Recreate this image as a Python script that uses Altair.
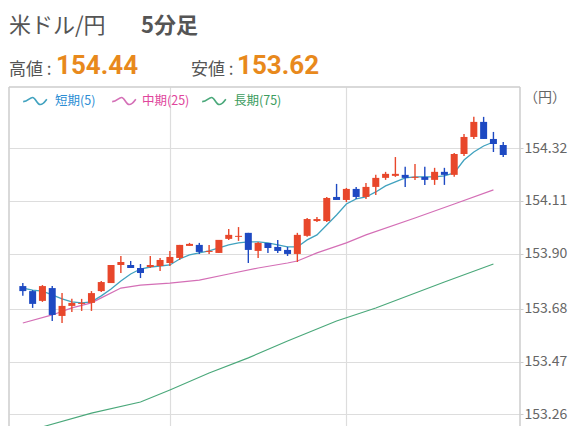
import altair as alt
import pandas as pd

# ---- candle data (5-minute bars, index 0..49) ----
opens = [153.771, 153.751, 153.712, 153.763, 153.652, 153.692, 153.700, 153.704, 153.751, 153.783,
         153.855, 153.855, 153.843, 153.847, 153.851, 153.863, 153.883, 153.931, 153.935, 153.907,
         153.903, 153.959, 153.967, 153.983, 153.911, 153.943, 153.927, 153.915, 153.899, 153.971,
         154.030, 154.030, 154.126, 154.114, 154.158, 154.126, 154.166, 154.202, 154.210, 154.214,
         154.202, 154.206, 154.194, 154.226, 154.214, 154.297, 154.365, 154.425, 154.357, 154.333]
highs = [153.783, 153.755, 153.775, 153.771, 153.743, 153.720, 153.720, 153.751, 153.791, 153.855,
         153.891, 153.871, 153.859, 153.891, 153.883, 153.911, 153.935, 153.943, 153.943, 153.935,
         153.955, 153.998, 154.006, 153.983, 153.947, 153.943, 153.955, 153.927, 153.983, 154.042,
         154.046, 154.126, 154.178, 154.162, 154.166, 154.182, 154.214, 154.226, 154.285, 154.246,
         154.257, 154.246, 154.242, 154.242, 154.301, 154.377, 154.445, 154.445, 154.385, 154.345]
lows = [153.732, 153.684, 153.708, 153.632, 153.624, 153.668, 153.672, 153.672, 153.747, 153.783,
        153.823, 153.843, 153.803, 153.843, 153.831, 153.851, 153.875, 153.931, 153.899, 153.899,
        153.903, 153.955, 153.951, 153.863, 153.883, 153.903, 153.903, 153.891, 153.867, 153.967,
        154.026, 154.026, 154.114, 154.106, 154.118, 154.118, 154.134, 154.194, 154.206, 154.166,
        154.194, 154.174, 154.174, 154.174, 154.206, 154.289, 154.357, 154.357, 154.305, 154.285]
closes = [153.751, 153.700, 153.771, 153.656, 153.692, 153.704, 153.704, 153.743, 153.787, 153.855,
          153.867, 153.843, 153.823, 153.855, 153.875, 153.887, 153.935, 153.939, 153.907, 153.911,
          153.955, 153.975, 153.971, 153.915, 153.943, 153.923, 153.911, 153.899, 153.975, 154.038,
          154.038, 154.122, 154.114, 154.158, 154.126, 154.166, 154.202, 154.218, 154.218, 154.202,
          154.206, 154.194, 154.226, 154.214, 154.297, 154.365, 154.425, 154.357, 154.337, 154.293]

# ---- moving averages ----
ma5 = [153.763, 153.755, 153.751, 153.736, 153.720, 153.708, 153.704, 153.708, 153.732, 153.759,
       153.791, 153.819, 153.839, 153.847, 153.851, 153.855, 153.879, 153.895, 153.903, 153.911,
       153.923, 153.935, 153.943, 153.947, 153.947, 153.943, 153.935, 153.927, 153.927, 153.955,
       153.975, 154.014, 154.054, 154.098, 154.118, 154.126, 154.146, 154.170, 154.186, 154.202,
       154.206, 154.206, 154.206, 154.210, 154.222, 154.273, 154.305, 154.329, 154.345]
ma25_idx = [0, 3, 5, 7, 8, 10, 12, 15, 18, 21, 24, 27, 28, 30, 33, 35, 40, 44, 48]
ma25 = [153.624, 153.656, 153.684, 153.704, 153.724, 153.763, 153.775, 153.783, 153.795, 153.819,
        153.843, 153.863, 153.871, 153.903, 153.943, 153.975, 154.042, 154.098, 154.154]
ma75_idx = [0, 2, 7, 12, 15, 19, 23, 27, 32, 36, 43, 48]
ma75 = [153.166, 153.210, 153.265, 153.309, 153.357, 153.425, 153.485, 153.552, 153.632, 153.684,
        153.787, 153.859]

y_ticks = [153.26, 153.47, 153.68, 153.90, 154.11, 154.32]
x_grid = [15, 33]

title_main = "米ドル/円"
title_sub = "5分足"
high_label, high_value = "高値 :", "154.44"
low_label, low_value = "安値 :", "153.62"
unit_label = "（円）"
legend_names = ["短期(5)", "中期(25)", "長期(75)"]

UP = "#e8472b"
DOWN = "#1d49c2"
MA_LINE = ["#41a2bf", "#d46fb6", "#4aa87a"]
MA_TEXT = ["#2b8dd4", "#e0459c", "#3b9c5e"]
ORANGE = "#e8891c"
BORDER = "#cccccc"
JP = "Noto Sans CJK JP"

W, H = 511, 339

candles = pd.DataFrame({"i": list(range(len(opens))), "open": opens, "high": highs,
                        "low": lows, "close": closes})
df5 = pd.DataFrame({"i": list(range(len(ma5))), "v": ma5})
df25 = pd.DataFrame({"i": ma25_idx, "v": ma25})
df75 = pd.DataFrame({"i": ma75_idx, "v": ma75})

xs = alt.Scale(domain=[-0.9, 50.2], nice=False, zero=False)
ys = alt.Scale(domain=[153.2136, 154.564], nice=False, zero=False)
x_axis = alt.Axis(values=x_grid, labels=False, ticks=False, domain=False, title=None,
                  gridColor="#dddddd", gridWidth=1.2)
y_axis = alt.Axis(orient="right", values=y_ticks, format=".2f", title=None, domain=False,
                  gridColor="#dddddd", gridWidth=1.2, tickColor="#cccccc", tickSize=3,
                  labelPadding=1, labelColor="#666666", labelFontSize=14, labelFont=JP)


def X(field):
    return alt.X(field, type="quantitative", scale=xs, axis=x_axis)


def Y(field):
    return alt.Y(field, type="quantitative", scale=ys, axis=y_axis)


color_rule = alt.condition(alt.datum.close >= alt.datum.open, alt.value(UP), alt.value(DOWN))

layers = []
for d, col, w in [(df75, MA_LINE[2], 1.1), (df25, MA_LINE[1], 1.2), (df5, MA_LINE[0], 1.3)]:
    layers.append(alt.Chart(d).mark_line(color=col, strokeWidth=w, clip=True).encode(
        x=X("i"), y=Y("v")))

layers.append(alt.Chart(candles).mark_rule(strokeWidth=1.4).encode(
    x=X("i"), y=Y("low"), y2="high", color=color_rule))
layers.append(alt.Chart(candles).mark_bar(size=7).encode(
    x=X("i"), y=Y("open"), y2="close", color=color_rule))

# frame: left, top, right (bottom is cut off in the original)
one = pd.DataFrame({"a": [0]})
layers += [
    alt.Chart(one).mark_rule(color=BORDER, strokeWidth=1.5).encode(
        x=alt.value(0), y=alt.value(0), y2=alt.value(H)),
    alt.Chart(one).mark_rule(color=BORDER, strokeWidth=1.5).encode(
        x=alt.value(W), y=alt.value(0), y2=alt.value(H)),
    alt.Chart(one).mark_rule(color=BORDER, strokeWidth=1.5).encode(
        x=alt.value(0), x2=alt.value(W), y=alt.value(0)),
]


def label(text, x, y, size, color, weight="normal", font=JP, baseline="alphabetic", align="left"):
    return alt.Chart(pd.DataFrame({"t": [text]})).mark_text(
        font=font, fontSize=size, color=color, fontWeight=weight, align=align,
        baseline=baseline).encode(x=alt.value(x), y=alt.value(y), text="t:N")


layers += [
    label(title_main, 0, -54, 22, "#555555"),
    label(title_sub, 132, -54, 22, "#555555", weight="bold"),
    label(high_label, 0, -12, 17, "#555555"),
    label(high_value, 47, -13, 26, ORANGE, weight="bold", font="Roboto"),
    label(low_label, 182, -12, 17, "#555555"),
    label(low_value, 228, -13, 26, ORANGE, weight="bold", font="Roboto"),
    label(unit_label, 515, 11, 14, "#666666", baseline="middle"),
]

wave = ("M-1,0.05 C-0.6,0.05 -0.45,-0.3 -0.2,-0.3 C0.05,-0.3 0.15,0.3 0.45,0.3 "
        "C0.7,0.3 0.85,0.05 1,-0.15")
icon_x = [26, 115, 205]
text_x = [46, 133, 225]
for k in range(3):
    layers.append(alt.Chart(pd.DataFrame({"t": [legend_names[k]]})).mark_point(
        shape=wave, filled=False, stroke=MA_LINE[k], strokeWidth=1.6, size=560, opacity=1
    ).encode(x=alt.value(icon_x[k]), y=alt.value(14)))
    layers.append(label(legend_names[k], text_x[k], 14, 12.5, MA_TEXT[k], baseline="middle"))

chart = alt.layer(*layers).properties(
    width=W, height=H,
    autosize=alt.AutoSizeParams(type="none"),
    padding={"left": 1, "top": 79, "right": 48, "bottom": 0},
    background="white",
).configure_view(stroke="transparent")

chart.save("out.html", embed_options={"renderer": "svg", "actions": False})
